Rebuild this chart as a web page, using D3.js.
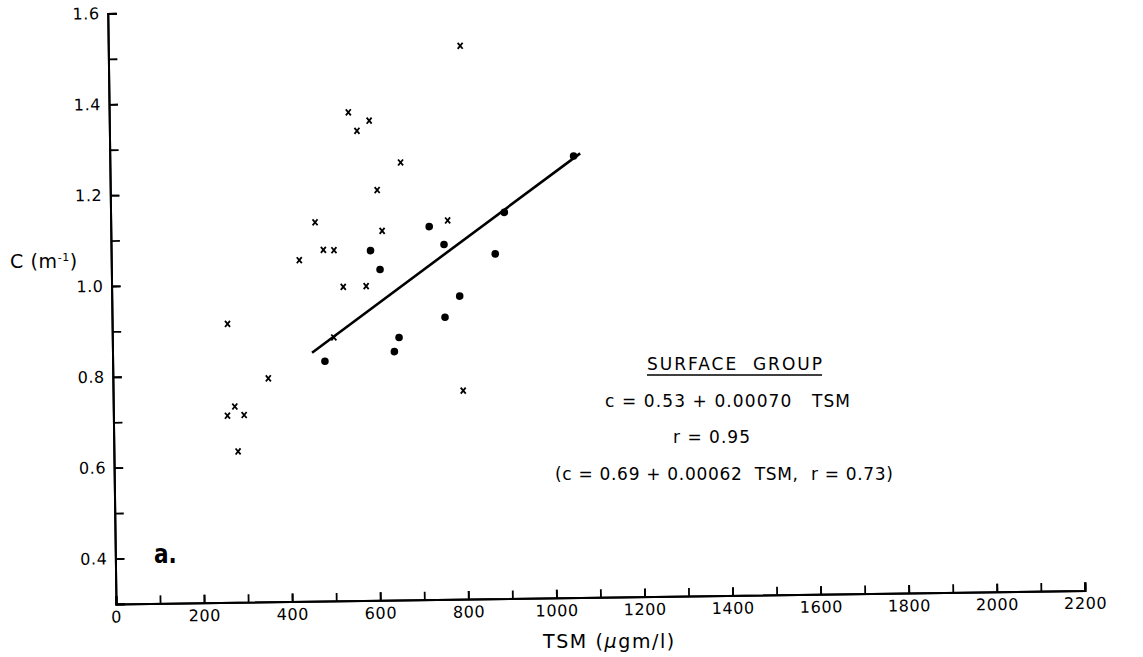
<!DOCTYPE html>
<html>
<head>
<meta charset="utf-8">
<script src="https://cdn.jsdelivr.net/npm/d3@7"></script>
<style>
  body { margin: 0; background: #fff; }
  text { font-family: "DejaVu Sans", sans-serif; fill: #000; }
</style>
</head>
<body>
<div class="container"></div>
<script>
var w = 1143;
var h = 657;

// crosses (all samples) : TSM (ugm/l), C (m-1)
var crossTSM = [799, 543, 590, 562, 660, 606, 464, 765, 616, 482, 506, 427, 526, 578, 262, 503, 353, 276, 259, 297, 282, 795];
var crossC   = [1.518, 1.375, 1.356, 1.334, 1.263, 1.203, 1.134, 1.134, 1.113, 1.073, 1.072, 1.051, 0.991, 0.992, 0.913, 0.880, 0.792, 0.731, 0.711, 0.712, 0.632, 0.759];

// dots (surface group)
var dotTSM = [894, 723, 756, 589, 610, 872, 790, 756, 651, 640, 482, 1053];
var dotC   = [1.150, 1.121, 1.081, 1.070, 1.028, 1.059, 0.967, 0.921, 0.878, 0.847, 0.828, 1.272];

// regression line c = 0.53 + 0.00070 TSM
var fitIntercept = 0.53;
var fitSlope = 0.0007;
var fitRange = [453, 1068];

var xTickLabels = [0, 200, 400, 600, 800, 1000, 1200, 1400, 1600, 1800, 2000, 2200];
var yTickLabels = [0.4, 0.6, 0.8, 1.0, 1.2, 1.4, 1.6];

var ox = 116, oy = 604;
var pw = 969, ph = 590.6;

var svg = d3.select(".container").append("svg")
  .attr("width", w)
  .attr("height", h);

var xScale = d3.scaleLinear().domain([0, 2200]).range([0, pw]);
var yScale = d3.scaleLinear().domain([0.3, 1.6]).range([ph, 0]);

// the scanned figure is slightly rotated
var g = svg.append("g")
  .attr("transform", "translate(" + ox + "," + (oy - ph) + ") rotate(-0.8, 0, " + ph + ")");

// minor ticks
g.append("g")
  .attr("class", "axis")
  .call(d3.axisLeft(yScale).tickValues(d3.range(0.4, 1.65, 0.1)).tickSize(-9).tickFormat(""));
g.append("g")
  .attr("class", "axis")
  .attr("transform", "translate(0," + ph + ")")
  .call(d3.axisBottom(xScale).tickValues(d3.range(100, 2201, 100)).tickSize(-8).tickFormat(""));

// labelled axes
g.append("g")
  .attr("class", "axis")
  .call(d3.axisLeft(yScale).tickValues(yTickLabels).tickSize(-9).tickPadding(8).tickFormat(d3.format(".1f")));
g.append("g")
  .attr("class", "axis")
  .attr("transform", "translate(0," + ph + ")")
  .call(d3.axisBottom(xScale).tickValues(xTickLabels).tickSize(-8).tickPadding(7).tickFormat(d3.format("d")));

g.selectAll(".axis path").attr("stroke", "#000").attr("stroke-width", 2);
g.selectAll(".axis line").attr("stroke", "#000").attr("stroke-width", 1.8);
g.selectAll(".axis text")
  .style("font-family", "DejaVu Sans")
  .style("font-size", "16px")
  .style("letter-spacing", "0.6px")
  .attr("fill", "#000");

// regression line
g.append("line")
  .attr("x1", xScale(fitRange[0]))
  .attr("y1", yScale(fitIntercept + fitSlope * fitRange[0]))
  .attr("x2", xScale(fitRange[1]))
  .attr("y2", yScale(fitIntercept + fitSlope * fitRange[1]))
  .attr("stroke", "#000")
  .attr("stroke-width", 2.6);

// dots
g.append("g").selectAll("circle")
  .data(dotTSM)
  .enter().append("circle")
  .attr("cx", (d) => xScale(d))
  .attr("cy", (d, i) => yScale(dotC[i]))
  .attr("r", 3.8)
  .attr("fill", "#000");

// crosses
g.append("g").selectAll("path")
  .data(crossTSM)
  .enter().append("path")
  .attr("transform", (d, i) => "translate(" + xScale(d) + "," + yScale(crossC[i]) + ")")
  .attr("d", "M-2.5,-3L2.5,3M2.5,-3L-2.5,3")
  .attr("stroke", "#000")
  .attr("stroke-width", 1.8);

// axis titles
var yTitle = svg.append("text")
  .attr("x", 10)
  .attr("y", 268)
  .style("font-size", "19px")
  .style("letter-spacing", "0.6px");
yTitle.append("tspan").text("C (m");
yTitle.append("tspan").attr("dy", -7).style("font-size", "11px").text("-1");
yTitle.append("tspan").attr("dy", 7).text(")");

var xTitle = svg.append("text")
  .attr("x", 543)
  .attr("y", 648)
  .style("font-size", "19px")
  .style("letter-spacing", "1.6px");
xTitle.append("tspan").text("TSM (");
xTitle.append("tspan").style("font-style", "italic").text("μ");
xTitle.append("tspan").text("gm/l)");

// panel label
svg.append("text")
  .attr("transform", "translate(154,563) scale(0.8,1)")
  .style("font-size", "27px")
  .style("font-weight", "bold")
  .text("a.");

// annotation
var notes = [
  { text: "SURFACE  GROUP", x: 647, y: 370, len: 175 },
  { text: "c = 0.53 + 0.00070   TSM", x: 605, y: 407, len: 245 },
  { text: "r = 0.95", x: 673, y: 443, len: 77 },
  { text: "(c = 0.69 + 0.00062  TSM,  r = 0.73)", x: 555, y: 480, len: 338 }
];
svg.append("g").selectAll("text")
  .data(notes)
  .enter().append("text")
  .attr("x", (d) => d.x)
  .attr("y", (d) => d.y)
  .attr("textLength", (d) => d.len)
  .attr("lengthAdjust", "spacing")
  .style("font-size", "17px")
  .style("white-space", "pre")
  .text((d) => d.text);

svg.append("line")
  .attr("x1", 647).attr("x2", 822)
  .attr("y1", 375).attr("y2", 375)
  .attr("stroke", "#000")
  .attr("stroke-width", 1.5);
</script>
</body>
</html>
